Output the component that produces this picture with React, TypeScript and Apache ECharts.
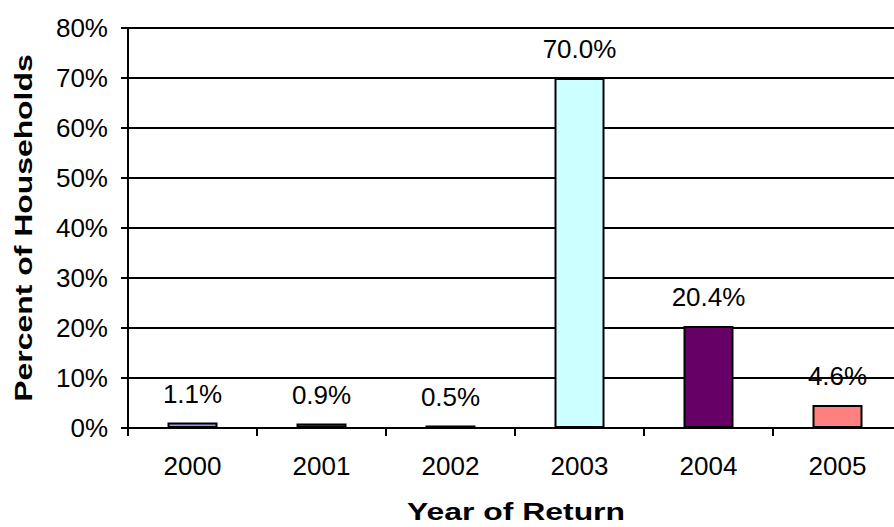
import React, { useEffect, useRef } from "react";
import * as echarts from "echarts";

const categories = ["2000", "2001", "2002", "2003", "2004", "2005"];
const values = [1.1, 0.9, 0.5, 70.0, 20.4, 4.6];
const barColors = ["#9999FF", "#993366", "#FFFFCC", "#CCFFFF", "#660066", "#FF8080"];
const yTicks = [0, 10, 20, 30, 40, 50, 60, 70, 80];

const FONT = "Arial, 'Liberation Sans', sans-serif";

export default function App() {
  const ref = useRef<HTMLDivElement>(null);
  useEffect(() => {
    if (!ref.current) return;
    const chart = echarts.init(ref.current, null, { renderer: "svg" });
    chart.setOption({
      animation: false,
      backgroundColor: "#ffffff",
      grid: { left: 128, right: 0, top: 28, bottom: 99, containLabel: false },
      xAxis: {
        type: "category",
        data: categories,
        axisLine: { lineStyle: { color: "#000", width: 2 } },
        axisTick: { show: true, length: 8, lineStyle: { color: "#000", width: 2 } },
        axisLabel: { color: "#000", fontSize: 26, fontFamily: FONT, margin: 25 },
      },
      yAxis: {
        type: "value",
        min: yTicks[0],
        max: yTicks[yTicks.length - 1],
        interval: 10,
        axisLine: { show: true, lineStyle: { color: "#000", width: 2 } },
        axisTick: { show: true, length: 7, lineStyle: { color: "#000", width: 2 } },
        splitLine: { show: true, lineStyle: { color: "#000", width: 2 } },
        axisLabel: {
          color: "#000",
          fontSize: 26,
          fontFamily: FONT,
          margin: 20,
          formatter: (v: number) => `${v}%`,
        },
      },
      series: [
        {
          type: "bar",
          barWidth: 50,
          data: values.map((v, i) => ({
            value: v,
            itemStyle: { color: barColors[i], borderColor: "#000", borderWidth: 2 },
          })),
          label: {
            show: true,
            position: "top",
            distance: 16,
            color: "#000",
            fontSize: 26,
            fontFamily: FONT,
            formatter: (p: any) => `${Number(p.value).toFixed(1)}%`,
          },
        },
      ],
      graphic: [
        {
          type: "text",
          x: 516,
          y: 512,
          scaleX: 1.33,
          style: {
            text: "Year of Return",
            fontSize: 24,
            fontWeight: "bold",
            fontFamily: FONT,
            fill: "#000",
            align: "center",
            verticalAlign: "middle",
          },
        },
        {
          type: "text",
          x: 24,
          y: 228,
          rotation: Math.PI / 2,
          scaleX: 1.33,
          style: {
            text: "Percent of Households",
            fontSize: 24,
            fontWeight: "bold",
            fontFamily: FONT,
            fill: "#000",
            align: "center",
            verticalAlign: "middle",
          },
        },
      ],
    });
    return () => chart.dispose();
  }, []);
  return (
    <div
      style={{
        position: "absolute",
        left: 0,
        top: 0,
        width: 894,
        height: 527,
        overflow: "hidden",
      }}
    >
      <div ref={ref} style={{ width: 902, height: 527 }} />
    </div>
  );
}
